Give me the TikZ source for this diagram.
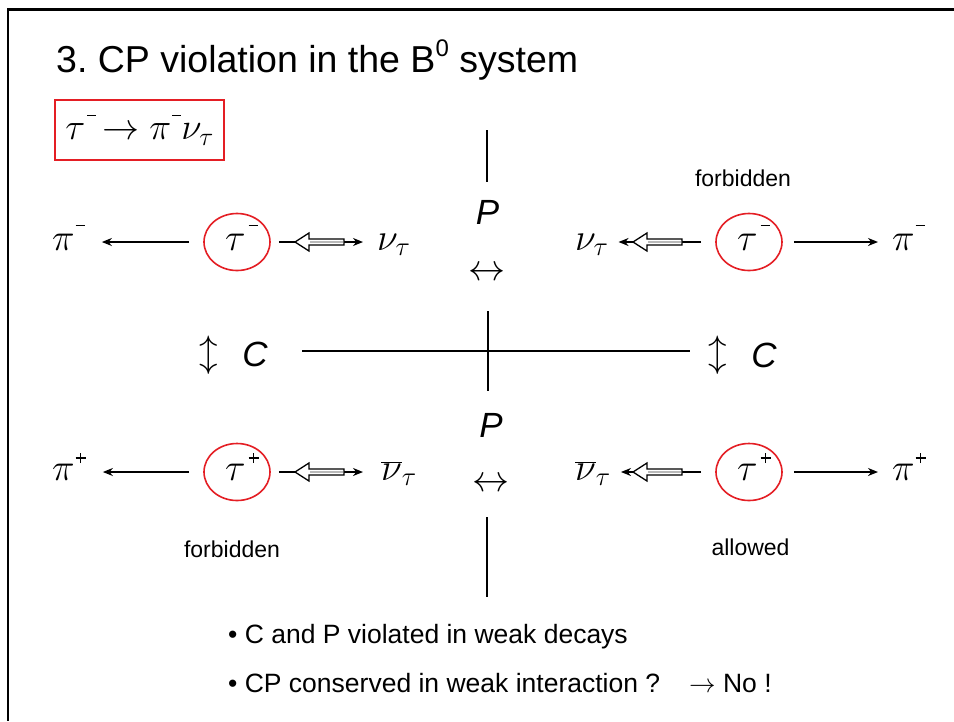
\RequirePackage{fix-cm}
\documentclass[tikz,border=0pt]{standalone}
\usepackage{fontspec}
\setmainfont{Liberation Sans}
\usetikzlibrary{arrows.meta,shapes.geometric}
\definecolor{redc}{RGB}{228,30,36}
\newcommand{\sminus}{\raisebox{24pt}{\rule{9pt}{1.4pt}}}
\newcommand{\splus}{\raisebox{21.3pt}{\rule{10pt}{1.4pt}\kern-5.7pt\rule[-4.3pt]{1.4pt}{10pt}\kern4.3pt}}
\newcommand{\hollowarrow}[2]{%
  \draw[hollowpoly] (#1,#2) -- ++(14,-9) -- ++(0,6) -- ++(35,0) -- ++(0,6) -- ++(-35,0) -- ++(0,6) -- cycle;
  \draw[gray!55, line width=1.4pt] (#1+15,#2) -- ++(33,0);}
\begin{document}
\begin{tikzpicture}[x=1pt,y=-1pt,
  mth/.style={inner sep=0pt, font=\fontsize{38}{40}\selectfont},
  ring/.style={ellipse, draw=redc, line width=1.6pt, minimum width=66pt, minimum height=57pt, inner sep=0pt},
  arr/.style={line width=1.8pt, -{Stealth[length=10pt,width=8pt]}},
  axisline/.style={line width=1.6pt},
  hollowpoly/.style={draw, fill=white, line width=1.3pt, line join=miter},
  small/.style={inner sep=0pt, font=\fontsize{23}{26}\selectfont},
  bul/.style={inner sep=0pt, font=\fontsize{26.5}{30}\selectfont},
  big/.style={inner sep=0pt, font=\fontsize{35}{40}\selectfont\itshape},
  arrsym/.style={inner sep=0pt, font=\fontsize{37}{40}\selectfont},
]
\useasboundingbox (0,0) rectangle (954,721);
\fill[white] (0,0) rectangle (954,721);
% frame
\coordinate (fTR) at (954,9.5);
\coordinate (fC) at (8,9.5);
\coordinate (fBL) at (8,721);
\draw[line width=2.4pt, line join=miter] (fTR) -- (fC) -- (fBL);

% title
\node[inner sep=0pt, anchor=base west, font=\fontsize{37.5}{40}\selectfont] (title) at (56,72)
  {3.\ CP violation in the B\raisebox{0.42em}{\fontsize{24}{24}\selectfont 0} system};

% red box
\node[draw=redc, line width=1.6pt, minimum width=169pt, minimum height=60pt, inner sep=0pt, font=\fontsize{37}{40}\selectfont] (box) at (139.5,130)
  {$\tau$\kern2pt\sminus\kern6pt$\rightarrow\pi$\kern1pt\sminus$\nu_\tau$};

% row 1 left
\node[mth, anchor=base west] (piL1) at (52,250) {$\pi$\kern1pt\sminus};
\node[ring] (tL1) at (237,242) {};
\node[mth, anchor=base west] (tL1t) at (225,250) {$\tau$\kern3pt\sminus};
\node[mth, anchor=base west] (nuL1) at (377,250) {$\nu_\tau$};
% row 1 right
\node[mth, anchor=base west] (nuR1) at (575,250) {$\nu_\tau$};
\node[ring] (tR1) at (749,242) {};
\node[mth, anchor=base west] (tR1t) at (737,250) {$\tau$\kern3pt\sminus};
\node[mth, anchor=base west] (piR1) at (892,250) {$\pi$\kern1pt\sminus};
% row 2 left
\node[mth, anchor=base west] (piL2) at (52,480) {$\pi$\kern1pt\splus};
\node[ring] (tL2) at (237,472) {};
\node[mth, anchor=base west] (tL2t) at (225,480) {$\tau$\kern3pt\splus};
\node[mth, anchor=base west] (nuL2) at (381,480) {$\overline{\nu}_\tau$};
% row 2 right
\node[mth, anchor=base west] (nuR2) at (575,480) {$\overline{\nu}_\tau$};
\node[ring] (tR2) at (749,472) {};
\node[mth, anchor=base west] (tR2t) at (737,480) {$\tau$\kern3pt\splus};
\node[mth, anchor=base west] (piR2) at (892,480) {$\pi$\kern1pt\splus};

% momentum arrows
\foreach \r/\s in {1/14,2/18}{
  \draw[arr, shorten <=14pt, shorten >=17pt] (tL\r.west) -- (tL\r.west -| piL\r.east);
  \draw[arr, shorten <=8pt, shorten >=\s pt] (tL\r.east) -- (tL\r.east -| nuL\r.west);
  \draw[arr, shorten <=14pt, shorten >=10pt] (tR\r.west) -- (tR\r.west -| nuR\r.east);
  \draw[arr, shorten <=11pt, shorten >=14pt] (tR\r.east) -- (tR\r.east -| piR\r.west);
}
% spin arrows
\hollowarrow{295}{242}
\hollowarrow{633}{242}
\hollowarrow{295}{472}
\hollowarrow{633}{472}

% mirror lines
\coordinate (va) at (487,130);
\coordinate (vb) at (487,182);
\coordinate (vc) at (488,311);
\coordinate (vd) at (488,391);
\coordinate (ve) at (487,517);
\coordinate (vf) at (487,597);
\coordinate (ha) at (302,351);
\coordinate (hb) at (690,351);
\draw[axisline] (va) -- (vb);
\draw[axisline] (vc) -- (vd);
\draw[axisline] (ve) -- (vf);
\draw[axisline] (ha) -- (hb);

% P labels
\node[big] (Ptop) at (487.5,212.5) {P};
\node[arrsym] (LRtop) at (486.5,274) {$\leftrightarrow$};
\node[big] (Pbot) at (491,425) {P};
\node[arrsym] (LRbot) at (490.5,485) {$\leftrightarrow$};

% C labels
\node[arrsym] (UDl) at (209,355) {$\updownarrow$};
\node[big] (Cl) at (255,354.5) {C};
\node[arrsym] (UDr) at (718,355) {$\updownarrow$};
\node[big] (Cr) at (764,355) {C};

% status labels
\node[small, anchor=base] (f1) at (743,186) {forbidden};
\node[small, anchor=base] (f2) at (232,557) {forbidden};
\node[small, anchor=base] (al) at (750.5,555) {allowed};

% bullets
\node[bul, anchor=base west] (b1) at (228,643) {\textbullet\ C and P violated in weak decays};
\node[bul, anchor=base west] (b2) at (228,692) {\textbullet\ CP conserved in weak interaction ?\hspace{29pt}$\rightarrow$ No !};
\end{tikzpicture}
\end{document}
